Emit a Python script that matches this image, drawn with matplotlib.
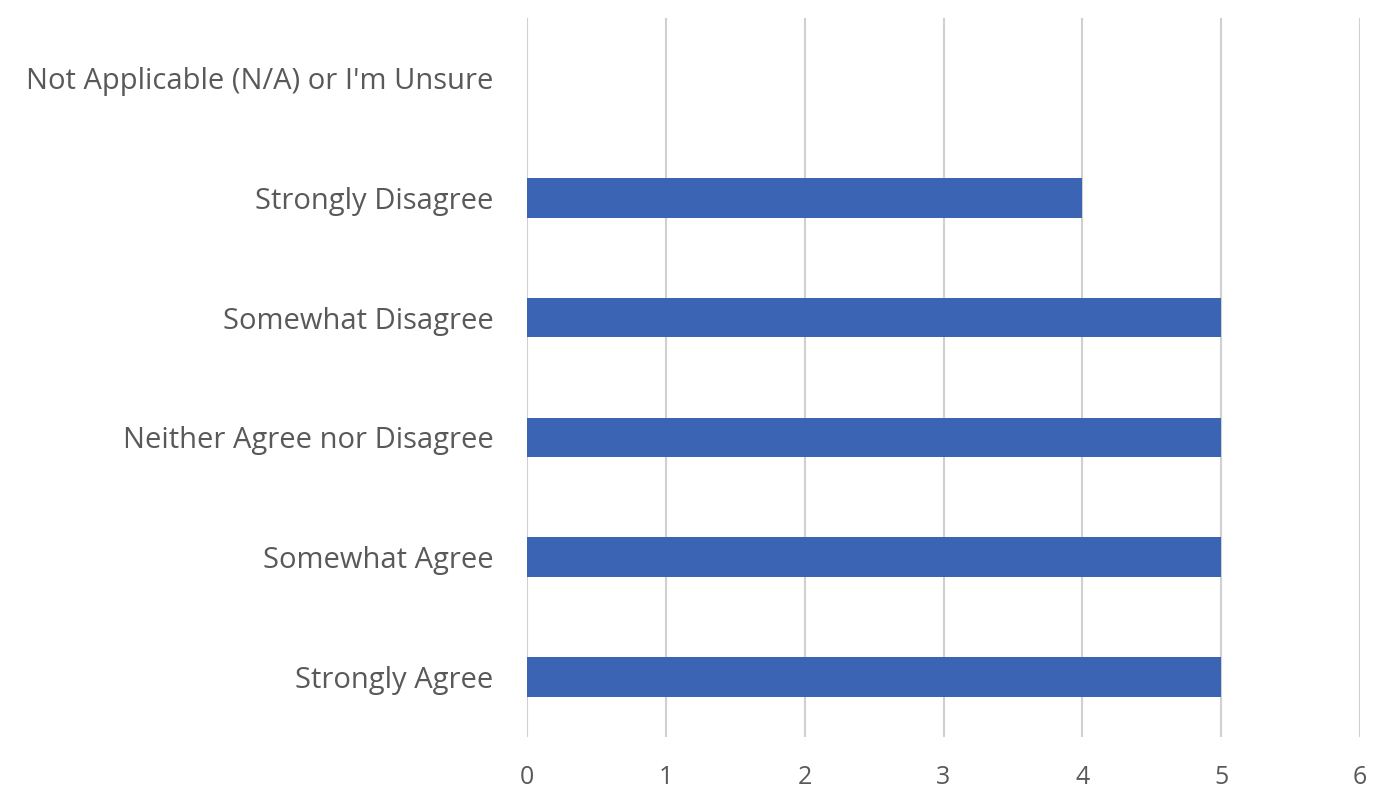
import matplotlib
matplotlib.use("Agg")
import matplotlib.pyplot as plt

# survey responses, bottom to top
categories = [
    "Strongly Agree",
    "Somewhat Agree",
    "Neither Agree nor Disagree",
    "Somewhat Disagree",
    "Strongly Disagree",
    "Not Applicable (N/A) or I'm Unsure",
]
counts = [5, 5, 5, 5, 4, 0]
xticks = [0, 1, 2, 3, 4, 5, 6]

BAR_COLOR = "#3C64B4"
TEXT_COLOR = "#595959"
GRID_COLOR = "#D0D0D0"

plt.rcParams["font.family"] = ["Open Sans", "DejaVu Sans"]

fig = plt.figure(figsize=(13.74, 8.01), dpi=100)
ax = fig.add_axes([0.3836, 0.080, 0.6062, 0.8975])

ypos = range(len(categories))
ax.barh(ypos, counts, height=0.33, color=BAR_COLOR, zorder=3)

ax.set_xlim(0, 6)
ax.set_ylim(-0.5, len(categories) - 0.5)
ax.set_xticks(xticks)
ax.set_xticklabels([str(t) for t in xticks])
ax.set_yticks(list(ypos))
ax.set_yticklabels(categories)

ax.grid(axis="x", color=GRID_COLOR, linewidth=1.5, zorder=0)
ax.grid(axis="y", visible=False)
for s in ax.spines.values():
    s.set_visible(False)

ax.tick_params(axis="both", length=0, colors=TEXT_COLOR)
ax.tick_params(axis="y", pad=24, labelsize=21)
ax.tick_params(axis="x", pad=20, labelsize=18)

fig.savefig("out.png", dpi=100)
